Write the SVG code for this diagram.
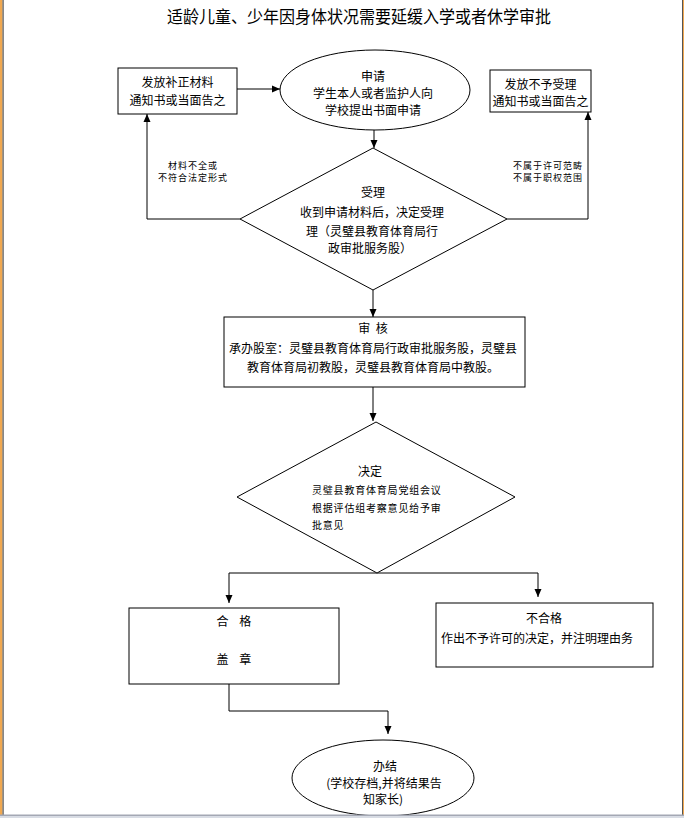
<svg xmlns="http://www.w3.org/2000/svg" width="684" height="818" viewBox="0 0 684 818">
<style>
text{font-family:"Noto Sans CJK SC","Liberation Sans",sans-serif;fill:#000;text-anchor:middle;font-size:12px}
.s{font-size:9px;letter-spacing:1px}
.d{font-size:10px;letter-spacing:0.8px;text-anchor:start}
.t{font-size:17px}
.n{fill:#fff;stroke:#000;stroke-width:1}
.c{fill:none;stroke:#000;stroke-width:1}
</style>
<defs>
<marker id="a" viewBox="0 0 8 8" refX="8" refY="4" markerWidth="8" markerHeight="8" markerUnits="userSpaceOnUse" orient="auto">
<path d="M0,0.5 L8,4 L0,7.5 Z" fill="#000"/>
</marker>
</defs>
<rect width="684" height="818" fill="#fff"/>
<g id="page">
<rect x="0" y="0" width="2.5" height="815" fill="#f0a850"/>
<rect x="2.5" y="0" width="1.2" height="815" fill="#555"/>
<rect x="682" y="0" width="1" height="815" fill="#555"/>
<rect x="683" y="0" width="1" height="815" fill="#f0a850"/>
</g>
<text class="t" x="359" y="23" textLength="384" lengthAdjust="spacingAndGlyphs">适龄儿童、少年因身体状况需要延缓入学或者休学审批</text>
<g id="connectors">
<path class="c" d="M237,89 H280" marker-end="url(#a)"/>
<path class="c" d="M374,130 V148" marker-end="url(#a)"/>
<path class="c" d="M240,219 H147 V114" marker-end="url(#a)"/>
<path class="c" d="M507,219 H588 V112" marker-end="url(#a)"/>
<path class="c" d="M373,290 V317" marker-end="url(#a)"/>
<path class="c" d="M373,387 V421" marker-end="url(#a)"/>
<path class="c" d="M229,573 H538"/>
<path class="c" d="M229,573 V603" marker-end="url(#a)"/>
<path class="c" d="M538,573 V597" marker-end="url(#a)"/>
<path class="c" d="M229,684 V711 H388 V734" marker-end="url(#a)"/>
<text class="s" x="193" y="169">材料不全或</text>
<text class="s" x="193" y="181">不符合法定形式</text>
<text class="s" x="548" y="169">不属于许可范畴</text>
<text class="s" x="548" y="181">不属于职权范围</text>
</g>
<g id="n-buzheng">
<rect class="n" x="118" y="68" width="119" height="46"/>
<text x="177.5" y="87">发放补正材料</text>
<text x="177.5" y="105">通知书或当面告之</text>
</g>
<g id="n-shenqing">
<ellipse class="n" cx="375" cy="90" rx="95" ry="40"/>
<text x="373" y="81">申请</text>
<text x="373" y="98">学生本人或者监护人向</text>
<text x="373" y="115">学校提出书面申请</text>
</g>
<g id="n-buyu">
<rect class="n" x="490" y="70" width="101" height="42"/>
<text x="540.5" y="89">发放不予受理</text>
<text x="540.5" y="106">通知书或当面告之</text>
</g>
<g id="n-shouli">
<polygon class="n" points="373,148 507,219 373,290 240,219"/>
<text x="373" y="197">受理</text>
<text x="372" y="217">收到申请材料后，决定受理</text>
<text x="372" y="236">理（灵璧县教育体育局行</text>
<text x="370" y="253">政审批服务股）</text>
</g>
<g id="n-shenhe">
<rect class="n" x="224" y="317" width="301" height="70"/>
<text x="373" y="333" xml:space="preserve">审  核</text>
<text x="373" y="353">承办股室：灵璧县教育体育局行政审批服务股，灵璧县</text>
<text x="373" y="372">教育体育局初教股，灵璧县教育体育局中教股。</text>
</g>
<g id="n-jueding">
<polygon class="n" points="376,422 515,497 377,573 237,497"/>
<text x="370" y="476">决定</text>
<text class="d" x="312" y="494">灵璧县教育体育局党组会议</text>
<text class="d" x="312" y="512">根据评估组考察意见给予审</text>
<text class="d" x="312" y="529">批意见</text>
</g>
<g id="n-hege">
<rect class="n" x="129" y="608" width="210" height="76"/>
<text x="234" y="626" xml:space="preserve">合    格</text>
<text x="234" y="664" xml:space="preserve">盖    章</text>
</g>
<g id="n-buhege">
<rect class="n" x="436" y="603" width="217" height="64"/>
<text x="544" y="623">不合格</text>
<text x="537" y="643">作出不予许可的决定，并注明理由务</text>
</g>
<g id="n-banjie">
<ellipse class="n" cx="383" cy="778" rx="91" ry="38"/>
<text x="385" y="771">办结</text>
<text x="384" y="788">(学校存档,并将结果告</text>
<text x="383" y="804">知家长)</text>
</g>
<rect x="0" y="814.5" width="684" height="1.5" fill="#a4a8b4"/>
<rect x="0" y="816" width="684" height="2" fill="#d8dce4"/>
</svg>
